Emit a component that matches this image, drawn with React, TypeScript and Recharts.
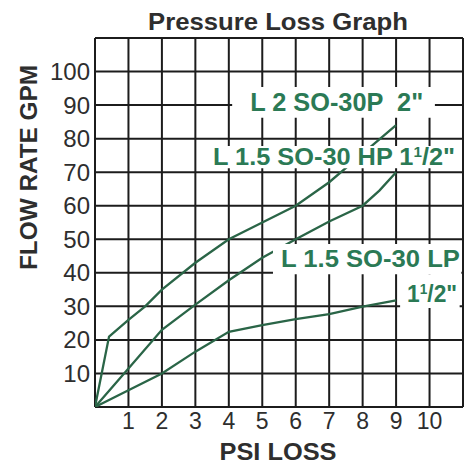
import React from "react";
import {
  LineChart,
  Line,
  XAxis,
  YAxis,
  CartesianGrid,
  ReferenceArea,
} from "recharts";

// PSI loss (x) vs flow rate in GPM (y)
const psi2in = [0, 0.42, 1, 1.5, 2, 3, 4, 5, 6, 7, 8, 9];
const gpm2in = [0, 21, 26, 30, 35, 43, 50, 55, 60, 67, 75.5, 84];

const psiHp = [0, 1, 2, 3, 4, 5, 6, 7, 8, 8.5, 9];
const gpmHp = [0, 11.5, 23, 30.5, 37.8, 44.5, 50, 55.3, 60, 64.5, 70];

const psiLp = [0, 1, 2, 3, 4, 5, 6, 7, 8, 9];
const gpmLp = [0, 5, 10, 16.5, 22.4, 24.4, 26.2, 27.7, 29.9, 31.8];

const xTicks = [0, 1, 2, 3, 4, 5, 6, 7, 8, 9, 10, 11];
const yTicks = [0, 10, 20, 30, 40, 50, 60, 70, 80, 90, 100, 110];

const toRows = (xs: number[], ys: number[]) =>
  xs.map((psi, i) => ({ psi, gpm: ys[i] }));

const FONT = "'Liberation Sans', Arial, Helvetica, sans-serif";
const LINE = "#2a6547";
const TEXT_GREEN = "#2b7a55";
const DARK = "#2e2e2e";

interface BoxLabelProps {
  viewBox?: { x: number; y: number; width: number; height: number };
  dx: number;
  dy: number;
  size: number;
  length: number;
  main: string;
  sup?: string;
  tail?: string;
}

function BoxLabel({ viewBox, dx, dy, size, length, main, sup, tail }: BoxLabelProps) {
  if (!viewBox) return null;
  return (
    <text
      x={viewBox.x + dx}
      y={viewBox.y + dy}
      fontFamily={FONT}
      fontWeight="bold"
      fontSize={size}
      fill={TEXT_GREEN}
      textLength={length}
      lengthAdjust="spacingAndGlyphs"
      style={{ whiteSpace: "pre" }}
    >
      <tspan>{main}</tspan>
      {sup && (
        <tspan fontSize={size * 0.6} dy={-size * 0.32}>
          {sup}
        </tspan>
      )}
      {tail && <tspan dy={sup ? size * 0.32 : 0}>{tail}</tspan>}
    </text>
  );
}

export default function App() {
  const hideEdges = (max: number) => (v: number) =>
    v === 0 || v === max ? "" : String(v);

  return (
    <div
      style={{
        position: "absolute",
        left: 0,
        top: 0,
        width: 471,
        height: 464,
        background: "#fff",
      }}
    >
      <LineChart
        width={471}
        height={464}
        margin={{ top: 38, right: 8, left: 0, bottom: 0 }}
      >
        <CartesianGrid stroke="#1c1c1c" strokeWidth={2} />
        <XAxis
          type="number"
          dataKey="psi"
          domain={[0, 11]}
          ticks={xTicks}
          tickFormatter={hideEdges(11)}
          allowDataOverflow
          axisLine={false}
          tickLine={false}
          tickSize={0}
          tickMargin={6}
          height={57}
          tick={{ fontSize: 23, fill: DARK, fontFamily: FONT }}
        />
        <YAxis
          type="number"
          dataKey="gpm"
          domain={[0, 110]}
          ticks={yTicks}
          tickFormatter={hideEdges(110)}
          allowDataOverflow
          axisLine={false}
          tickLine={false}
          tickSize={0}
          tickMargin={5}
          width={95}
          tick={{ fontSize: 24, fill: DARK, fontFamily: FONT }}
        />
        <Line
          data={toRows(psi2in, gpm2in)}
          dataKey="gpm"
          type="linear"
          stroke={LINE}
          strokeWidth={2.3}
          dot={false}
          isAnimationActive={false}
        />
        <Line
          data={toRows(psiHp, gpmHp)}
          dataKey="gpm"
          type="linear"
          stroke={LINE}
          strokeWidth={2.3}
          dot={false}
          isAnimationActive={false}
        />
        <Line
          data={toRows(psiLp, gpmLp)}
          dataKey="gpm"
          type="linear"
          stroke={LINE}
          strokeWidth={2.3}
          dot={false}
          isAnimationActive={false}
        />

        <ReferenceArea
          x1={4.1}
          x2={10.16}
          y1={86.2}
          y2={95.4}
          fill="#fff"
          fillOpacity={1}
          stroke="none"
          zIndex={1500}
          label={
            <BoxLabel dx={18} dy={24.5} size={25} length={173} main={'L 2 SO-30P  2"'} />
          }
        />
        <ReferenceArea
          x1={3.29}
          x2={10.75}
          y1={71.2}
          y2={77.8}
          fill="#fff"
          fillOpacity={1}
          stroke="none"
          zIndex={1500}
          label={
            <BoxLabel
              dx={8}
              dy={19}
              size={24}
              length={242}
              main="L 1.5 SO-30 HP 1"
              sup="1"
              tail={'/2"'}
            />
          }
        />
        <ReferenceArea
          x1={5.32}
          x2={10.95}
          y1={39.6}
          y2={48.6}
          fill="#fff"
          fillOpacity={1}
          stroke="none"
          zIndex={1500}
          label={<BoxLabel dx={8} dy={23} size={24} length={179} main="L 1.5 SO-30 LP" />}
        />
        <ReferenceArea
          x1={9.12}
          x2={10.9}
          y1={29.5}
          y2={39.6}
          fill="#fff"
          fillOpacity={1}
          stroke="none"
          zIndex={1500}
          label={
            <BoxLabel dx={7} dy={28} size={24} length={50} main="1" sup="1" tail={'/2"'} />
          }
        />

        <text
          x={278}
          y={30}
          textAnchor="middle"
          fontFamily={FONT}
          fontWeight="bold"
          fontSize={24}
          fill={DARK}
          textLength={260}
          lengthAdjust="spacingAndGlyphs"
        >
          Pressure Loss Graph
        </text>
        <text
          x={278}
          y={460}
          textAnchor="middle"
          fontFamily={FONT}
          fontWeight="bold"
          fontSize={24}
          fill={DARK}
          textLength={117}
          lengthAdjust="spacingAndGlyphs"
        >
          PSI LOSS
        </text>
        <text
          x={28.5}
          y={176}
          textAnchor="middle"
          fontFamily={FONT}
          fontWeight="bold"
          fontSize={24}
          fill={DARK}
          textLength={205}
          lengthAdjust="spacingAndGlyphs"
          transform="rotate(-90, 28.5, 167.5)"
        >
          FLOW RATE GPM
        </text>
      </LineChart>
    </div>
  );
}
